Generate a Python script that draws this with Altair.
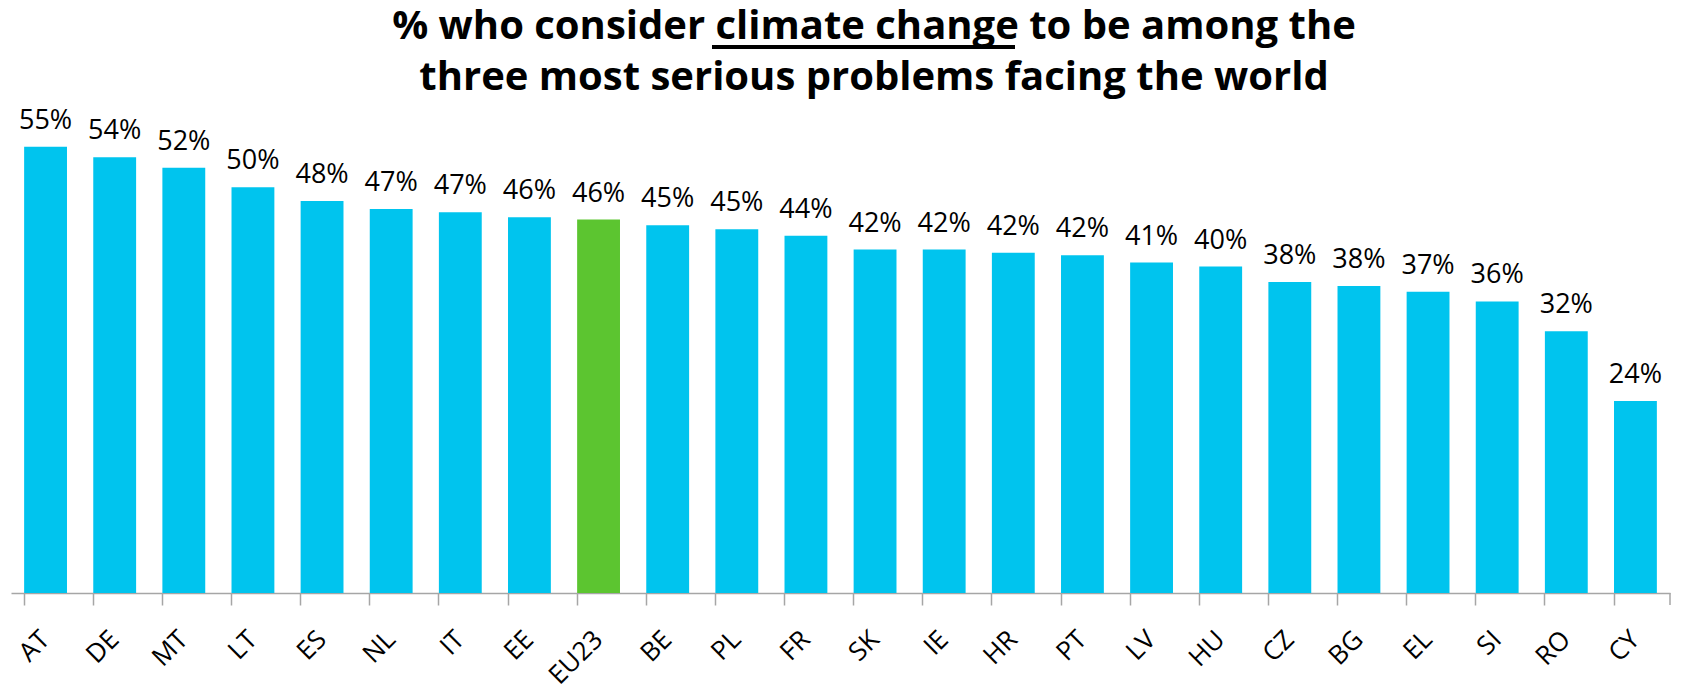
import altair as alt
import pandas as pd

countries = ["AT", "DE", "MT", "LT", "ES", "NL", "IT", "EE", "EU23", "BE", "PL", "FR",
             "SK", "IE", "HR", "PT", "LV", "HU", "CZ", "BG", "EL", "SI", "RO", "CY"]
values = [55.1, 53.8, 52.5, 50.1, 48.4, 47.4, 47.0, 46.4, 46.1, 45.4, 44.9, 44.1,
          42.4, 42.4, 42.0, 41.7, 40.8, 40.3, 38.4, 37.9, 37.2, 36.0, 32.3, 23.7]
labels = ["55%", "54%", "52%", "50%", "48%", "47%", "47%", "46%", "46%", "45%", "45%", "44%",
          "42%", "42%", "42%", "42%", "41%", "40%", "38%", "38%", "37%", "36%", "32%", "24%"]
groups = ["EU" if c == "EU23" else "Country" for c in countries]

title_line1 = ["% who consider climate change to be among the"]
title_line2 = ["three most serious problems facing the world"]

df = pd.DataFrame({"country": countries, "value": values, "label": labels, "group": groups})

FONT = "Open Sans"
AXIS_GREY = "#A6A6A6"
W, H = 1659, 486
TITLE_X = 863

x = alt.X("country:N", sort=countries,
          scale=alt.Scale(paddingInner=0.38, paddingOuter=0.19),
          axis=alt.Axis(title=None, labelAngle=315, labelAlign="right", labelBaseline="middle",
                        labelFontSize=26, labelFont=FONT, labelColor="black", labelPadding=30,
                        tickSize=12, tickColor=AXIS_GREY, tickWidth=1.5, bandPosition=0,
                        domainColor=AXIS_GREY, domainWidth=1.5))
y = alt.Y("value:Q", scale=alt.Scale(domain=[0, 60]), axis=None)

base = alt.Chart(df)
bars = base.mark_bar().encode(
    x=x, y=y,
    color=alt.Color("group:N", scale=alt.Scale(domain=["Country", "EU"], range=["#00C4EE", "#5CC530"]),
                    legend=None))
text = base.mark_text(baseline="alphabetic", dy=-18, fontSize=27, font=FONT, color="black").encode(
    x=x, y=y, text="label:N")

one = pd.DataFrame({"k": [0]})
end_tick = alt.Chart(one).mark_rule(color=AXIS_GREY, strokeWidth=1.5).encode(
    x=alt.value(W), y=alt.value(H), y2=alt.value(H + 12))

title_style = dict(fontSize=40, font=FONT, fontWeight="bold", color="black",
                   align="center", baseline="alphabetic")
t1 = alt.Chart(pd.DataFrame({"t": title_line1})).mark_text(**title_style).encode(
    text="t:N", x=alt.value(TITLE_X), y=alt.value(-68))
t2 = alt.Chart(pd.DataFrame({"t": title_line2})).mark_text(**title_style).encode(
    text="t:N", x=alt.value(TITLE_X), y=alt.value(-17))
# underline under "climate change" in the title
underline = alt.Chart(one).mark_rule(color="black", strokeWidth=4).encode(
    x=alt.value(701), x2=alt.value(1004), y=alt.value(-60))

chart = alt.layer(bars, text, end_tick, t1, t2, underline).properties(
    width=W, height=H,
    autosize=alt.AutoSizeParams(type="none"),
    padding={"left": 3, "top": 99, "right": 4, "bottom": 92},
).configure_view(stroke=None)

chart.save("out.html", embed_options={"renderer": "svg", "actions": False})
